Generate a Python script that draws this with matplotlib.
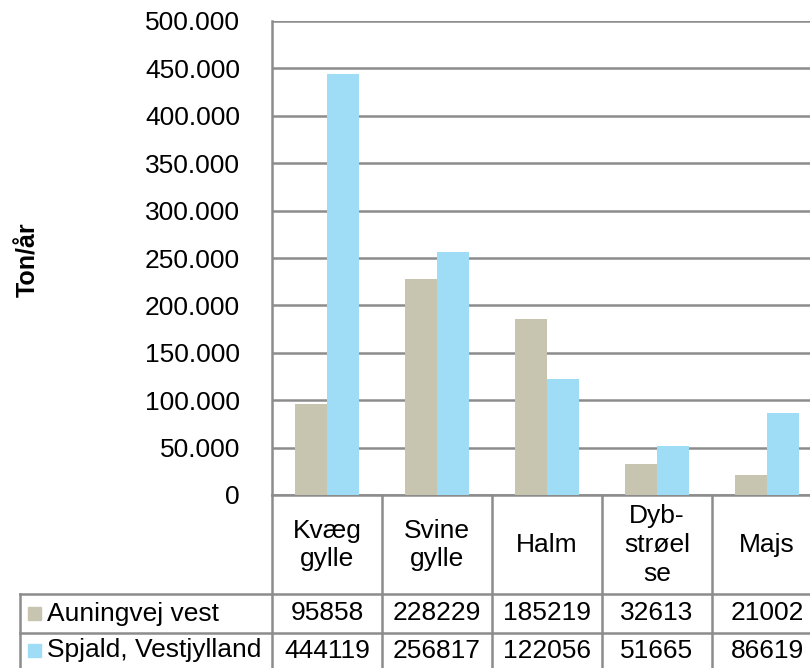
import matplotlib
matplotlib.use("Agg")
from matplotlib import pyplot as plt
from matplotlib.patches import Rectangle
from matplotlib.ticker import FuncFormatter
import numpy as np

categories = ["Kvæg\ngylle", "Svine\ngylle", "Halm", "Dyb-\nstrøel\nse", "Majs"]
series_names = ["Auningvej vest", "Spjald, Vestjylland"]
auning = [95858, 228229, 185219, 32613, 21002]
spjald = [444119, 256817, 122056, 51665, 86619]
colors = ["#C7C5B0", "#9FDCF6"]
yticks = np.arange(0, 500001, 50000)

plt.rcParams['font.family'] = ['Liberation Sans', 'DejaVu Sans']
FS = 19
GRID = "#8C8C8C"

W, H = 810, 668
fig = plt.figure(figsize=(W / 100, H / 100), dpi=100, facecolor='w')
# plot area in pixels: left 272, right 822 (cut off), top 21, bottom 495
L, R, T, B = 272, 822, 21, 495
ax = fig.add_axes([L / W, (H - B) / H, (R - L) / W, (B - T) / H])

x = np.arange(len(categories))
bw = 0.29
ax.bar(x - bw / 2, auning, bw, color=colors[0], zorder=3)
ax.bar(x + bw / 2, spjald, bw, color=colors[1], zorder=3)

ax.set_xlim(-0.5, len(categories) - 0.5)
ax.set_ylim(0, 500000)
ax.set_yticks(yticks)
ax.yaxis.set_major_formatter(FuncFormatter(lambda v, p: "0" if v == 0 else f"{int(v):,}".replace(",", ".")))
ax.tick_params(axis='y', length=0, pad=23, labelsize=FS)
ax.set_xticks([])
ax.grid(axis='y', color=GRID, lw=1.8, zorder=1)
for s in ["top", "right"]:
    ax.spines[s].set_visible(False)
ax.spines["left"].set_color(GRID)
ax.spines["left"].set_linewidth(1.8)
ax.spines["bottom"].set_color(GRID)
ax.spines["bottom"].set_linewidth(1.8)

fig.text(28 / W, 1 - 260 / H, "Ton/år", rotation=90, fontsize=18, fontweight='bold',
         ha='center', va='center')

# data table below the plot
def fy(py):
    return 1 - py / H

def fx(px):
    return px / W

row_lines = [495, 594, 633, 672]
col_edges = [L + i * (R - L) / len(categories) for i in range(len(categories) + 1)]
lw = 1.8
# vertical lines
for cx in col_edges:
    fig.add_artist(plt.Line2D([fx(cx), fx(cx)], [fy(495), fy(672)], color=GRID, lw=lw))
fig.add_artist(plt.Line2D([fx(20), fx(20)], [fy(594), fy(672)], color=GRID, lw=lw))
# horizontal lines
for ry in row_lines[1:]:
    fig.add_artist(plt.Line2D([fx(20), fx(R)], [fy(ry), fy(ry)], color=GRID, lw=lw))

# header cells
for i, c in enumerate(categories):
    cx = (col_edges[i] + col_edges[i + 1]) / 2
    fig.text(fx(cx), fy(545), c, ha='center', va='center', fontsize=FS, linespacing=1.25)

# data rows
for r, (name, vals, col) in enumerate(zip(series_names, [auning, spjald], colors)):
    cy = (row_lines[r + 1] + row_lines[r + 2]) / 2 - (2 if r == 1 else 0)
    fig.add_artist(Rectangle((fx(28), fy(cy + 6.5)), 13 / W, 13 / H, color=col,
                             transform=fig.transFigure))
    fig.text(fx(47), fy(cy), name, ha='left', va='center', fontsize=FS)
    for i, v in enumerate(vals):
        cx = (col_edges[i] + col_edges[i + 1]) / 2
        fig.text(fx(cx), fy(cy), str(v), ha='center', va='center', fontsize=FS)

fig.savefig("out.png", dpi=100, facecolor='w')
